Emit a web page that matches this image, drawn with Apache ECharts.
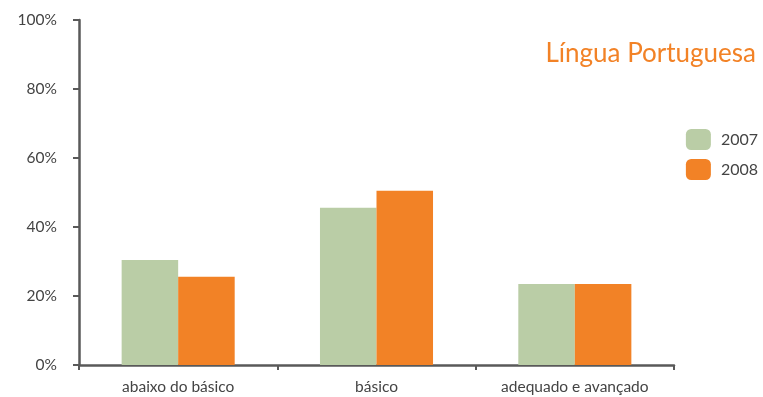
<!DOCTYPE html>
<html><head><meta charset="utf-8">
<script src="https://cdn.jsdelivr.net/npm/echarts@6/dist/echarts.min.js"></script>
<style>html,body{margin:0;padding:0;background:#fff}#c{width:763px;height:397px}</style>
</head><body><div id="c"></div>
<script>
const categories = ['abaixo do básico', 'básico', 'adequado e avançado'];
const s2007 = [30.4, 45.6, 23.5];
const s2008 = [25.6, 50.5, 23.5];
const yTicks = [0, 20, 40, 60, 80, 100];
const font = 'Lato, "Open Sans", sans-serif';
const chart = echarts.init(document.getElementById('c'));
chart.setOption({
  animation: false,
  title: { text: 'Língua Portuguesa', right: 2, top: 36, textStyle: { color: '#F28226', fontSize: 26, fontWeight: 'normal', fontFamily: font } },
  legend: {
    orient: 'vertical', right: 0, top: 124, itemWidth: 25, itemHeight: 21, itemGap: 9,
    icon: 'roundRect',
    textStyle: { color: '#444', fontSize: 16, fontFamily: font, padding: [0, 0, 0, 5] },
    data: ['2007', '2008']
  },
  grid: { left: 79, right: 89, top: 20, bottom: 32 },
  xAxis: {
    type: 'category', data: categories,
    axisLine: { lineStyle: { color: '#595959', width: 2.5 } },
    axisTick: { show: true, length: 5, lineStyle: { color: '#595959', width: 2 } },
    axisLabel: { color: '#444', fontSize: 15.5, fontFamily: font, margin: 14 }
  },
  yAxis: {
    type: 'value', min: 0, max: 100, interval: 20,
    splitLine: { show: false },
    axisLine: { show: true, lineStyle: { color: '#595959', width: 2.5 } },
    axisTick: { show: true, length: 6, lineStyle: { color: '#595959', width: 2 } },
    axisLabel: { color: '#444', fontSize: 15.5, fontFamily: font, margin: 22, formatter: v => yTicks.includes(v) ? v + '%' : '' }
  },
  series: [
    { name: '2007', type: 'bar', data: s2007, barGap: '0%', barCategoryGap: '43%',
      itemStyle: { color: '#BACDA6', borderWidth: 0 } },
    { name: '2008', type: 'bar', data: s2008,
      itemStyle: { color: '#F28226', borderWidth: 0 } }
  ]
});
</script></body></html>
